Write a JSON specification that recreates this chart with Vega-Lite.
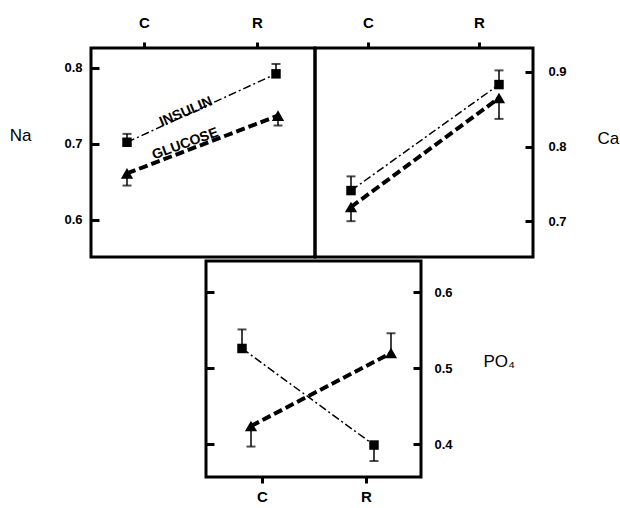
{
  "$schema": "https://vega.github.io/schema/vega-lite/v6.json",
  "padding": {"left": 7, "top": 13, "right": 0, "bottom": 0},
  "background": "white",
  "datasets": {
    "pts": [
      {"panel": "Na", "group": "INSULIN", "period": "C", "value": 0.702, "err": 0.713},
      {"panel": "Na", "group": "INSULIN", "period": "R", "value": 0.792, "err": 0.805},
      {"panel": "Na", "group": "GLUCOSE", "period": "C", "value": 0.661, "err": 0.645},
      {"panel": "Na", "group": "GLUCOSE", "period": "R", "value": 0.737, "err": 0.724},
      {"panel": "Ca", "group": "INSULIN", "period": "C", "value": 0.741, "err": 0.760},
      {"panel": "Ca", "group": "INSULIN", "period": "R", "value": 0.883, "err": 0.902},
      {"panel": "Ca", "group": "GLUCOSE", "period": "C", "value": 0.719, "err": 0.700},
      {"panel": "Ca", "group": "GLUCOSE", "period": "R", "value": 0.865, "err": 0.837},
      {"panel": "PO4", "group": "INSULIN", "period": "C", "value": 0.526, "err": 0.551},
      {"panel": "PO4", "group": "INSULIN", "period": "R", "value": 0.399, "err": 0.378},
      {"panel": "PO4", "group": "GLUCOSE", "period": "C", "value": 0.424, "err": 0.397},
      {"panel": "PO4", "group": "GLUCOSE", "period": "R", "value": 0.520, "err": 0.546}
    ]
  },
  "config": {
    "font": "Liberation Sans",
    "view": {"stroke": "black", "strokeWidth": 3},
    "axis": {
      "domain": false, "grid": false, "tickColor": "black", "tickWidth": 3,
      "labelColor": "black", "labelFont": "Liberation Sans", "labelFontWeight": "bold", "labelFontSize": 13,
      "titleFont": "Liberation Sans", "titleFontWeight": "normal", "titleFontSize": 17, "titleColor": "black"
    }
  },
  "spacing": 0,
  "vconcat": [
    {
      "spacing": 0,
      "bounds": "flush",
      "hconcat": [
        {
          "width": 224, "height": 209,
          "data": {"name": "pts"},
          "transform": [{"filter": "datum.panel === 'Na'"}],
          "resolve": {"scale": {"x": "independent"}, "axis": {"y": "independent"}},
          "layer": [
            {
              "mark": {"type": "point", "opacity": 0},
              "encoding": {
                "x": {"field": "period", "type": "ordinal", "scale": {"type": "point", "range": [53, 166], "padding": 0},
                      "axis": {"orient": "top", "title": null, "labelAngle": 0, "labelFontSize": 15, "tickSize": 6, "labelPadding": 12}},
                "y": {"field": "value", "type": "quantitative", "scale": {"domain": [0.551, 0.826], "nice": false, "zero": false},
                      "axis": {"orient": "left", "values": [0.6, 0.7, 0.8], "format": ".1f", "tickSize": -8, "labelPadding": 17,
                               "title": "Na", "titleAngle": 0, "titleX": -60, "titleY": 87, "titleAlign": "right", "titleBaseline": "middle"}}
              }
            },
            {
              "transform": [{"filter": "datum.group === 'INSULIN'"}],
              "encoding": {
                "x": {"field": "period", "type": "ordinal", "scale": {"type": "point", "range": [36, 185], "padding": 0}, "axis": null},
                "y": {"field": "value", "type": "quantitative", "scale": {"domain": [0.551, 0.826], "nice": false, "zero": false}, "axis": null}
              },
              "layer": [
                {"mark": {"type": "line", "color": "black", "strokeWidth": 1.5, "strokeDash": [8, 3, 2, 3]}},
                {"mark": {"type": "rule", "color": "black", "strokeWidth": 1.5}, "encoding": {"y2": {"field": "err"}}},
                {"mark": {"type": "tick", "color": "black", "orient": "horizontal", "size": 9, "thickness": 2},
                 "encoding": {"y": {"field": "err", "type": "quantitative", "axis": null}}},
                {"mark": {"type": "point", "shape": "square", "filled": true, "color": "black", "size": 90, "opacity": 1}}
              ]
            },
            {
              "transform": [{"filter": "datum.group === 'GLUCOSE'"}],
              "encoding": {
                "x": {"field": "period", "type": "ordinal", "scale": {"type": "point", "range": [36, 187], "padding": 0}, "axis": null},
                "y": {"field": "value", "type": "quantitative", "scale": {"domain": [0.551, 0.826], "nice": false, "zero": false}, "axis": null}
              },
              "layer": [
                {"mark": {"type": "line", "color": "black", "strokeWidth": 4, "strokeDash": [9, 4]}},
                {"mark": {"type": "rule", "color": "black", "strokeWidth": 1.5}, "encoding": {"y2": {"field": "err"}}},
                {"mark": {"type": "tick", "color": "black", "orient": "horizontal", "size": 9, "thickness": 2},
                 "encoding": {"y": {"field": "err", "type": "quantitative", "axis": null}}},
                {"mark": {"type": "point", "shape": "triangle-up", "filled": true, "color": "black", "size": 150, "opacity": 1}},
                {"data": {"values": [{"panel": "Na", "group": "GLUCOSE", "label": "INSULIN", "period": "C", "value": 0.709}]},
                 "mark": {"type": "text", "angle": 337, "dx": 64, "fontWeight": "bold", "fontSize": 14, "color": "black", "align": "center", "baseline": "middle"},
                 "encoding": {"text": {"field": "label"}}},
                {"data": {"values": [{"panel": "Na", "group": "GLUCOSE", "label": "GLUCOSE", "period": "C", "value": 0.672}]},
                 "mark": {"type": "text", "angle": 340, "dx": 62, "fontWeight": "bold", "fontSize": 14, "color": "black", "align": "center", "baseline": "middle"},
                 "encoding": {"text": {"field": "label"}}}
              ]
            }
          ]
        },
        {
          "width": 218, "height": 209,
          "data": {"name": "pts"},
          "transform": [{"filter": "datum.panel === 'Ca'"}],
          "resolve": {"scale": {"x": "independent"}, "axis": {"y": "independent"}},
          "layer": [
            {
              "mark": {"type": "point", "opacity": 0},
              "encoding": {
                "x": {"field": "period", "type": "ordinal", "scale": {"type": "point", "range": [53, 164], "padding": 0},
                      "axis": {"orient": "top", "title": null, "labelAngle": 0, "labelFontSize": 15, "tickSize": 6, "labelPadding": 12}},
                "y": {"field": "value", "type": "quantitative", "scale": {"domain": [0.652, 0.932], "nice": false, "zero": false},
                      "axis": {"orient": "right", "values": [0.7, 0.8, 0.9], "format": ".1f", "tickSize": -8, "labelPadding": 23,
                               "title": "Ca", "titleAngle": 0, "titleX": 64, "titleY": 90, "titleAlign": "left", "titleBaseline": "middle"}}
              }
            },
            {
              "transform": [{"filter": "datum.group === 'INSULIN'"}],
              "encoding": {
                "x": {"field": "period", "type": "ordinal", "scale": {"type": "point", "range": [36, 184], "padding": 0}, "axis": null},
                "y": {"field": "value", "type": "quantitative", "scale": {"domain": [0.652, 0.932], "nice": false, "zero": false}, "axis": null}
              },
              "layer": [
                {"mark": {"type": "line", "color": "black", "strokeWidth": 1.5, "strokeDash": [8, 3, 2, 3]}},
                {"mark": {"type": "rule", "color": "black", "strokeWidth": 1.5}, "encoding": {"y2": {"field": "err"}}},
                {"mark": {"type": "tick", "color": "black", "orient": "horizontal", "size": 9, "thickness": 2},
                 "encoding": {"y": {"field": "err", "type": "quantitative", "axis": null}}},
                {"mark": {"type": "point", "shape": "square", "filled": true, "color": "black", "size": 90, "opacity": 1}}
              ]
            },
            {
              "transform": [{"filter": "datum.group === 'GLUCOSE'"}],
              "encoding": {
                "x": {"field": "period", "type": "ordinal", "scale": {"type": "point", "range": [36, 184], "padding": 0}, "axis": null},
                "y": {"field": "value", "type": "quantitative", "scale": {"domain": [0.652, 0.932], "nice": false, "zero": false}, "axis": null}
              },
              "layer": [
                {"mark": {"type": "line", "color": "black", "strokeWidth": 4, "strokeDash": [9, 4]}},
                {"mark": {"type": "rule", "color": "black", "strokeWidth": 1.5}, "encoding": {"y2": {"field": "err"}}},
                {"mark": {"type": "tick", "color": "black", "orient": "horizontal", "size": 9, "thickness": 2},
                 "encoding": {"y": {"field": "err", "type": "quantitative", "axis": null}}},
                {"mark": {"type": "point", "shape": "triangle-up", "filled": true, "color": "black", "size": 150, "opacity": 1}}
              ]
            }
          ]
        }
      ]
    },
    {
      "spacing": 0,
      "bounds": "flush",
      "hconcat": [
        {
          "width": 115, "height": 216,
          "view": {"stroke": null},
          "data": {"values": [{"a": 0}]},
          "mark": {"type": "point", "opacity": 0}
        },
        {
          "width": 215, "height": 216,
          "data": {"name": "pts"},
          "transform": [{"filter": "datum.panel === 'PO4'"}],
          "resolve": {"scale": {"x": "independent"}, "axis": {"y": "independent"}},
          "layer": [
            {
              "mark": {"type": "point", "opacity": 0},
              "encoding": {
                "x": {"field": "period", "type": "ordinal", "scale": {"type": "point", "range": [56, 160], "padding": 0},
                      "axis": {"orient": "bottom", "title": null, "labelAngle": 0, "labelFontSize": 15, "tickSize": 6, "labelPadding": 6}},
                "y": {"field": "value", "type": "quantitative", "scale": {"domain": [0.357, 0.641], "nice": false, "zero": false},
                      "axis": {"orient": "right", "values": [0.4, 0.5, 0.6], "format": ".1f", "tickSize": -8, "labelPadding": 21,
                               "title": "PO₄", "titleAngle": 0, "titleX": 62, "titleY": 100, "titleAlign": "left", "titleBaseline": "middle"}}
              }
            },
            {
              "mark": {"type": "point", "opacity": 0},
              "encoding": {
                "y": {"field": "value", "type": "quantitative", "scale": {"domain": [0.357, 0.641], "nice": false, "zero": false},
                      "axis": {"orient": "left", "values": [0.4, 0.5, 0.6], "labels": false, "tickSize": -8, "title": null}}
              }
            },
            {
              "transform": [{"filter": "datum.group === 'INSULIN'"}],
              "encoding": {
                "x": {"field": "period", "type": "ordinal", "scale": {"type": "point", "range": [36, 168], "padding": 0}, "axis": null},
                "y": {"field": "value", "type": "quantitative", "scale": {"domain": [0.357, 0.641], "nice": false, "zero": false}, "axis": null}
              },
              "layer": [
                {"mark": {"type": "line", "color": "black", "strokeWidth": 1.5, "strokeDash": [8, 3, 2, 3]}},
                {"mark": {"type": "rule", "color": "black", "strokeWidth": 1.5}, "encoding": {"y2": {"field": "err"}}},
                {"mark": {"type": "tick", "color": "black", "orient": "horizontal", "size": 9, "thickness": 2},
                 "encoding": {"y": {"field": "err", "type": "quantitative", "axis": null}}},
                {"mark": {"type": "point", "shape": "square", "filled": true, "color": "black", "size": 90, "opacity": 1}}
              ]
            },
            {
              "transform": [{"filter": "datum.group === 'GLUCOSE'"}],
              "encoding": {
                "x": {"field": "period", "type": "ordinal", "scale": {"type": "point", "range": [45, 185], "padding": 0}, "axis": null},
                "y": {"field": "value", "type": "quantitative", "scale": {"domain": [0.357, 0.641], "nice": false, "zero": false}, "axis": null}
              },
              "layer": [
                {"mark": {"type": "line", "color": "black", "strokeWidth": 4, "strokeDash": [9, 4]}},
                {"mark": {"type": "rule", "color": "black", "strokeWidth": 1.5}, "encoding": {"y2": {"field": "err"}}},
                {"mark": {"type": "tick", "color": "black", "orient": "horizontal", "size": 9, "thickness": 2},
                 "encoding": {"y": {"field": "err", "type": "quantitative", "axis": null}}},
                {"mark": {"type": "point", "shape": "triangle-up", "filled": true, "color": "black", "size": 150, "opacity": 1}}
              ]
            }
          ]
        }
      ]
    }
  ]
}
